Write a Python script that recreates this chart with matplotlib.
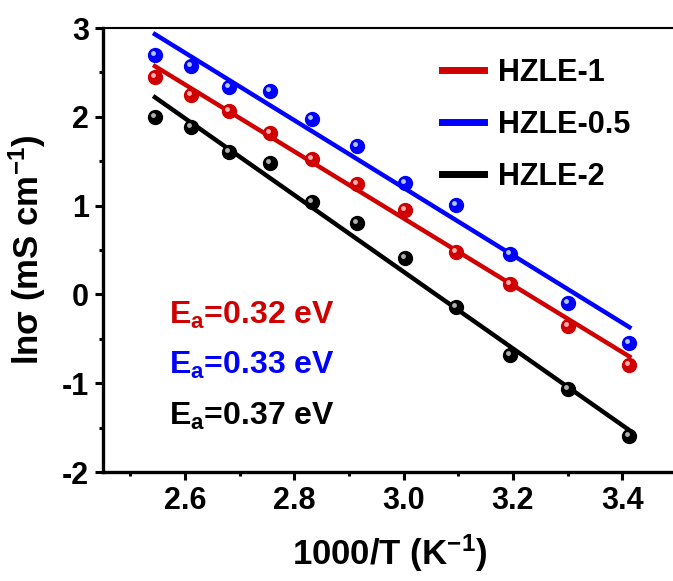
import matplotlib
matplotlib.use("Agg")
import matplotlib.pyplot as plt
import matplotlib.transforms as mtransforms
import numpy as np

plt.rcParams['font.family'] = ['Liberation Sans', 'DejaVu Sans']
plt.rcParams['font.weight'] = 'bold'
plt.rcParams['axes.unicode_minus'] = False
plt.rcParams['mathtext.fontset'] = 'custom'
plt.rcParams['mathtext.rm'] = 'Liberation Sans:bold'
plt.rcParams['mathtext.it'] = 'Liberation Sans:bold'
plt.rcParams['mathtext.bf'] = 'Liberation Sans:bold'

# 数据 (1000/T)
x = np.array([2.545, 2.611, 2.681, 2.755, 2.833, 2.915, 3.003, 3.096, 3.195, 3.300, 3.413])
y_hzle1 = np.array([2.45, 2.25, 2.07, 1.82, 1.52, 1.24, 0.95, 0.48, 0.12, -0.36, -0.80])
y_hzle05 = np.array([2.70, 2.57, 2.34, 2.29, 1.98, 1.67, 1.26, 1.01, 0.46, -0.10, -0.55])
y_hzle2 = np.array([2.00, 1.89, 1.60, 1.48, 1.04, 0.80, 0.41, -0.14, -0.68, -1.06, -1.60])

# 拟合直线两端
fit_x = np.array([2.545, 3.413])
fit_hzle1 = np.array([2.57, -0.70])
fit_hzle05 = np.array([2.93, -0.37])
fit_hzle2 = np.array([2.22, -1.53])

labels = ['HZLE-1', 'HZLE-0.5', 'HZLE-2']
colors = ['#d00000', '#0000ff', '#000000']
light = ['#ffb0b0', '#b0c8ff', '#b0b0b0']
ea_text = ['0.32', '0.33', '0.37']

fig = plt.figure(figsize=(6.73, 5.81), dpi=100)
ax = fig.add_axes([103/673, (581-472)/581, (677-103)/673, (472-28)/581])

ys = [y_hzle1, y_hzle05, y_hzle2]
fits = [fit_hzle1, fit_hzle05, fit_hzle2]
hl = mtransforms.offset_copy(ax.transData, fig=fig, x=-2, y=2, units='dots')
for y, f, c, lc, lab in zip(ys, fits, colors, light, labels):
    ax.plot(fit_x, f, color=c, lw=3.2, label=lab, zorder=2)
    ax.plot(x, y, 'o', color=c, ms=10, mec=c, zorder=3)
    ax.plot(x, y, 'o', color=lc, ms=3.5, mec='none', transform=hl, zorder=4)

ax.set_xlim(2.45, 3.5)
ax.set_ylim(-2, 3)
ax.set_xticks([2.6, 2.8, 3.0, 3.2, 3.4])
ax.set_xticks(np.arange(2.5, 3.5, 0.2), minor=True)
ax.set_yticks([-2, -1, 0, 1, 2, 3])
ax.set_yticks(np.arange(-1.5, 3, 1.0), minor=True)
ax.tick_params(which='major', direction='out', length=6, width=2.2, labelsize=22, pad=4)
ax.tick_params(which='minor', direction='out', length=3, width=2.2)
for s in ['left', 'bottom']:
    ax.spines[s].set_linewidth(2.4)
ax.spines['top'].set_linewidth(1.5)
ax.spines['right'].set_visible(False)
for lbl in ax.get_xticklabels() + ax.get_yticklabels():
    lbl.set_fontweight('bold')

ax.set_xlabel('1000/T (K$^{-1}$)', fontsize=25, fontweight='bold', labelpad=12)
ax.set_ylabel('ln\u03c3 (mS cm$^{-1}$)', fontsize=25, fontweight='bold', labelpad=10)

leg = ax.legend(loc='upper left', bbox_to_anchor=(0.542, 0.995), frameon=False,
                fontsize=22, handlelength=1.4, handletextpad=0.45, labelspacing=0.72)
for line in leg.get_lines():
    line.set_linewidth(5)

for i, (c, e) in enumerate(zip(colors, ea_text)):
    ax.text(0.115, 0.353 - i * 0.114, 'E$_\\mathregular{a}$=' + e + ' eV', color=c,
            fontsize=23, fontweight='bold', transform=ax.transAxes, va='center')

fig.savefig('out.png', dpi=100)
